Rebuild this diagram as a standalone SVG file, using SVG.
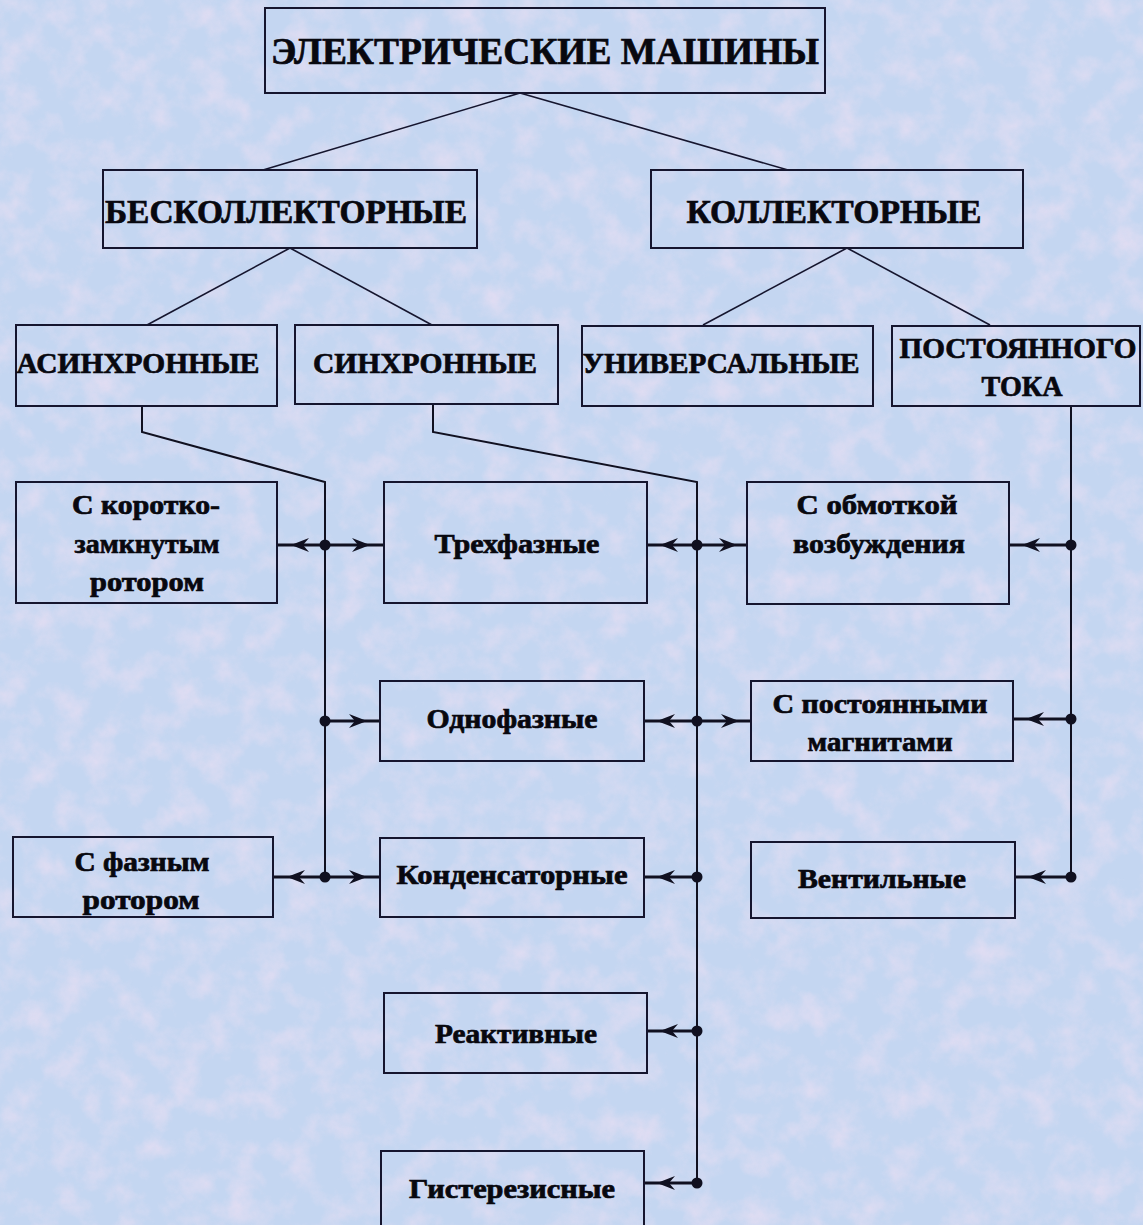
<svg xmlns="http://www.w3.org/2000/svg" width="1143" height="1225" viewBox="0 0 1143 1225">
<style>
.box{fill:none;stroke:#15152e;stroke-width:2}
.h{fill:none;stroke:#15152e;stroke-width:1.6}
.v{fill:none;stroke:#101020;stroke-width:2}
.a{fill:none;stroke:#101020;stroke-width:3.2;marker-mid:url(#ah)}
.dot{fill:#101020}
text{font-family:"Liberation Serif","Times New Roman",serif;font-weight:bold;fill:#08080f;stroke:#08080f;stroke-width:0.7;text-anchor:middle}
.t1{font-size:38px}
.t2{font-size:34px}
.t3{font-size:29px}
.t4{font-size:27px}
</style>
<defs>
<marker id="ah" markerUnits="userSpaceOnUse" markerWidth="18" markerHeight="14" viewBox="0 0 18 14" refX="18" refY="7" orient="auto">
<path d="M0,0 L18,7 L0,14 L6,7 Z" fill="#101020"/>
</marker>
<filter id="tex" x="0" y="0" width="100%" height="100%">
<feTurbulence type="fractalNoise" baseFrequency="0.035" numOctaves="4" seed="7"/>
<feColorMatrix type="matrix" values="0 0 0 0 0.92  0 0 0 0 0.76  0 0 0 0 0.9  1.6 0 0 0 -0.66"/>
</filter>
</defs>
<rect width="1143" height="1225" fill="#c4d6f1"/>
<rect width="1143" height="1225" filter="url(#tex)" opacity="0.7"/>

<g id="connectors">
<path class="h" d="M520,93 L263,170"/>
<path class="h" d="M520,93 L788,170"/>
<path class="h" d="M290,248 L147,325"/>
<path class="h" d="M290,248 L432,325"/>
<path class="h" d="M847,248 L703,325"/>
<path class="h" d="M847,248 L990,325"/>
<path class="v" d="M142,406 V432 L325,482 V877"/>
<path class="v" d="M433,404 V432 L697,482 V1183"/>
<path class="v" d="M1071,406 V877"/>
<path class="a" d="M325,545 L291,545 L277,545"/>
<path class="a" d="M325,545 L370,545 L384,545"/>
<path class="a" d="M697,545 L660,545 L647,545"/>
<path class="a" d="M697,545 L737,545 L748,545"/>
<path class="a" d="M1071,545 L1022,545 L1009,545"/>
<path class="a" d="M325,721 L367,721 L380,721"/>
<path class="a" d="M697,721 L657,721 L644,721"/>
<path class="a" d="M697,721 L739,721 L751,721"/>
<path class="a" d="M1071,719 L1026,719 L1013,719"/>
<path class="a" d="M325,877 L287,877 L273,877"/>
<path class="a" d="M325,877 L367,877 L380,877"/>
<path class="a" d="M697,877 L657,877 L644,877"/>
<path class="a" d="M1071,877 L1028,877 L1015,877"/>
<path class="a" d="M697,1031 L660,1031 L647,1031"/>
<path class="a" d="M697,1183 L657,1183 L644,1183"/>
<circle class="dot" cx="325" cy="545" r="5.5"/>
<circle class="dot" cx="697" cy="545" r="5.5"/>
<circle class="dot" cx="1071" cy="545" r="5.5"/>
<circle class="dot" cx="325" cy="721" r="5.5"/>
<circle class="dot" cx="697" cy="721" r="5.5"/>
<circle class="dot" cx="1071" cy="719" r="5.5"/>
<circle class="dot" cx="325" cy="877" r="5.5"/>
<circle class="dot" cx="697" cy="877" r="5.5"/>
<circle class="dot" cx="1071" cy="877" r="5.5"/>
<circle class="dot" cx="697" cy="1031" r="5.5"/>
<circle class="dot" cx="697" cy="1183" r="5.5"/>
</g>

<g id="n-root"><rect class="box" x="265" y="8" width="560" height="85"/><text class="t1" x="545" y="64" textLength="548" lengthAdjust="spacingAndGlyphs">ЭЛЕКТРИЧЕСКИЕ МАШИНЫ</text></g>
<g id="n-beskoll"><rect class="box" x="103" y="170" width="374" height="78"/><text class="t2" x="286" y="223" textLength="362" lengthAdjust="spacingAndGlyphs">БЕСКОЛЛЕКТОРНЫЕ</text></g>
<g id="n-koll"><rect class="box" x="651" y="170" width="372" height="78"/><text class="t2" x="834" y="223" textLength="295" lengthAdjust="spacingAndGlyphs">КОЛЛЕКТОРНЫЕ</text></g>
<g id="n-asinh"><rect class="box" x="16" y="325" width="261" height="81"/><text class="t3" x="138" y="373" textLength="243" lengthAdjust="spacingAndGlyphs">АСИНХРОННЫЕ</text></g>
<g id="n-sinh"><rect class="box" x="295" y="325" width="263" height="79"/><text class="t3" x="425" y="373" textLength="224" lengthAdjust="spacingAndGlyphs">СИНХРОННЫЕ</text></g>
<g id="n-univ"><rect class="box" x="582" y="326" width="291" height="80"/><text class="t3" x="721" y="373" textLength="277" lengthAdjust="spacingAndGlyphs">УНИВЕРСАЛЬНЫЕ</text></g>
<g id="n-post"><rect class="box" x="892" y="326" width="248" height="80"/><text class="t3" x="1018" y="358" textLength="237" lengthAdjust="spacingAndGlyphs">ПОСТОЯННОГО</text><text class="t3" x="1022" y="396" textLength="81" lengthAdjust="spacingAndGlyphs">ТОКА</text></g>
<g id="n-kz"><rect class="box" x="16" y="482" width="261" height="121"/><text class="t4" x="146" y="514" textLength="148" lengthAdjust="spacingAndGlyphs">С коротко-</text><text class="t4" x="147" y="553" textLength="145" lengthAdjust="spacingAndGlyphs">замкнутым</text><text class="t4" x="147" y="591" textLength="114" lengthAdjust="spacingAndGlyphs">ротором</text></g>
<g id="n-3f"><rect class="box" x="384" y="482" width="263" height="121"/><text class="t4" x="517" y="553" textLength="165" lengthAdjust="spacingAndGlyphs">Трехфазные</text></g>
<g id="n-obm"><rect class="box" x="747" y="482" width="262" height="122"/><text class="t4" x="877" y="514" textLength="161" lengthAdjust="spacingAndGlyphs">С обмоткой</text><text class="t4" x="879" y="553" textLength="172" lengthAdjust="spacingAndGlyphs">возбуждения</text></g>
<g id="n-1f"><rect class="box" x="380" y="681" width="264" height="80"/><text class="t4" x="512" y="728" textLength="171" lengthAdjust="spacingAndGlyphs">Однофазные</text></g>
<g id="n-pm"><rect class="box" x="751" y="681" width="262" height="80"/><text class="t4" x="880" y="713" textLength="215" lengthAdjust="spacingAndGlyphs">С постоянными</text><text class="t4" x="880" y="751" textLength="145" lengthAdjust="spacingAndGlyphs">магнитами</text></g>
<g id="n-fr"><rect class="box" x="13" y="837" width="260" height="80"/><text class="t4" x="142" y="871" textLength="135" lengthAdjust="spacingAndGlyphs">С фазным</text><text class="t4" x="141" y="909" textLength="117" lengthAdjust="spacingAndGlyphs">ротором</text></g>
<g id="n-kond"><rect class="box" x="380" y="838" width="264" height="79"/><text class="t4" x="512" y="884" textLength="231" lengthAdjust="spacingAndGlyphs">Конденсаторные</text></g>
<g id="n-vent"><rect class="box" x="751" y="842" width="264" height="76"/><text class="t4" x="882" y="888" textLength="168" lengthAdjust="spacingAndGlyphs">Вентильные</text></g>
<g id="n-react"><rect class="box" x="384" y="993" width="263" height="80"/><text class="t4" x="516" y="1043" textLength="162" lengthAdjust="spacingAndGlyphs">Реактивные</text></g>
<g id="n-hyst"><rect class="box" x="381" y="1151" width="263" height="84"/><text class="t4" x="512" y="1198" textLength="206" lengthAdjust="spacingAndGlyphs">Гистерезисные</text></g>
</svg>
